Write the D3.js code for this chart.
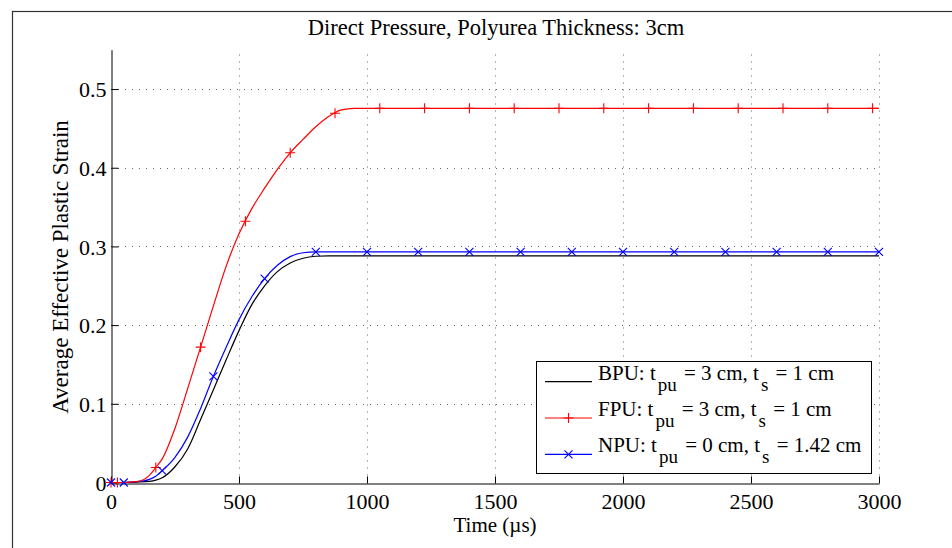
<!DOCTYPE html>
<html>
<head>
<meta charset="utf-8">
<script src="https://cdn.jsdelivr.net/npm/d3@7"></script>
<style>
  html, body { margin: 0; padding: 0; background: #fff; }
  svg { display: block; }
  text { font-family: "Liberation Serif", "Times New Roman", Times, serif; fill: #000; }
</style>
</head>
<body>
<svg id="chart" width="952" height="548"></svg>
<script>
// Sample times (µs) for the strain histories
const time = [0, 50, 100, 150, 175, 200, 250, 300, 350, 400, 450, 500, 550, 600, 650, 700, 750, 800, 850, 900, 950, 1000, 1500, 2000, 2500, 3000];

// Average effective plastic strain for each configuration
const bpu = [0, 0, 0.0005, 0.0015, 0.003, 0.006, 0.020, 0.043, 0.080, 0.118, 0.156, 0.193, 0.226, 0.250, 0.268, 0.279, 0.285, 0.2875, 0.288, 0.288, 0.288, 0.288, 0.288, 0.288, 0.288, 0.288];
const fpu = [0, 0, 0.001, 0.009, 0.019, 0.030, 0.069, 0.120, 0.172, 0.2245, 0.275, 0.316, 0.348, 0.374, 0.398, 0.419, 0.436, 0.452, 0.465, 0.4735, 0.4755, 0.4755, 0.4755, 0.4755, 0.4755, 0.4755];
const npu = [0, 0, 0.001, 0.004, 0.008, 0.015, 0.032, 0.058, 0.094, 0.135, 0.172, 0.207, 0.236, 0.259, 0.276, 0.287, 0.292, 0.293, 0.293, 0.293, 0.293, 0.293, 0.293, 0.293, 0.293, 0.293];

// Times at which the curve markers are placed
const fpuMarkTimes = [0, 25, 175, 350, 525, 700, 875, 1050, 1225, 1400, 1575, 1750, 1925, 2100, 2275, 2450, 2625, 2800, 2975];
const npuMarkTimes = [0, 50, 200, 400, 600, 800, 1000, 1200, 1400, 1600, 1800, 2000, 2200, 2400, 2600, 2800, 3000];

const xTicks = [0, 500, 1000, 1500, 2000, 2500, 3000];
const yTicks = [0, 0.1, 0.2, 0.3, 0.4, 0.5];

const titleText = "Direct Pressure, Polyurea Thickness: 3cm";
const xLabel = "Time (\u00b5s)";
const yLabel = "Average Effective Plastic Strain";

const legendEntries = [
  { name: "BPU", tpu: "3", ts: "1", color: "#000000", marker: null },
  { name: "FPU", tpu: "3", ts: "1", color: "#ff0000", marker: "plus" },
  { name: "NPU", tpu: "0", ts: "1.42", color: "#0000ff", marker: "cross" }
];

const svg = d3.select("#chart");

// Figure frame
svg.append("rect")
  .attr("x", 12.5).attr("y", 11.5)
  .attr("width", 960).attr("height", 560)
  .attr("fill", "none").attr("stroke", "#333").attr("stroke-width", 1.2);

const x = d3.scaleLinear().domain([0, 3000]).range([111, 879]);
const y = d3.scaleLinear().domain([0, 0.55]).range([482.5, 49.7]);

// Dotted grid
const grid = svg.append("g").attr("stroke", "#666").attr("stroke-width", 1).attr("stroke-dasharray", "1 6");
grid.selectAll("line.v").data(xTicks.filter(d => d > 0)).join("line")
  .attr("x1", d => Math.round(x(d)) + 0.5).attr("x2", d => Math.round(x(d)) + 0.5)
  .attr("y1", y(0)).attr("y2", y(0.55));
grid.selectAll("line.h").data(yTicks.filter(d => d > 0)).join("line")
  .attr("x1", x(0)).attr("x2", x(3000))
  .attr("y1", d => Math.round(y(d)) + 0.5).attr("y2", d => Math.round(y(d)) + 0.5);

// Axes with inward ticks
const xAxis = d3.axisBottom(x).tickValues(xTicks).tickSizeInner(-7).tickSizeOuter(0).tickPadding(0);
const gx = svg.append("g").attr("transform", `translate(0,${Math.round(y(0)) + 0.5})`).call(xAxis);
gx.select(".domain").attr("stroke", "#000");
gx.selectAll(".tick line").attr("stroke", "#000");
gx.selectAll(".tick text").remove();
gx.selectAll(".tick").append("text")
  .attr("y", 25).attr("text-anchor", "middle")
  .style("font-size", "22px")
  .text(d => d);

const yAxis = d3.axisLeft(y).tickValues(yTicks).tickSizeInner(-7).tickSizeOuter(0);
const gy = svg.append("g").attr("transform", `translate(${Math.round(x(0)) + 0.5},0)`).call(yAxis);
gy.select(".domain").attr("stroke", "#000");
gy.selectAll(".tick line").attr("stroke", "#000");
gy.selectAll(".tick text").remove();
gy.selectAll(".tick").append("text")
  .attr("x", -5).attr("dy", "0.35em").attr("text-anchor", "end")
  .style("font-size", "22px")
  .text(d => d === 0 ? "0" : d3.format(".1f")(d));

// Curves
const line = d3.line().x(d => x(d[0])).y(d => y(d[1])).curve(d3.curveMonotoneX);
const series = [
  { vals: bpu, color: "#000000" },
  { vals: npu, color: "#0000ff" },
  { vals: fpu, color: "#ff0000" }
];
series.forEach(s => {
  svg.append("path")
    .datum(time.map((t, i) => [t, s.vals[i]]))
    .attr("fill", "none").attr("stroke", s.color).attr("stroke-width", 1.2)
    .attr("d", line);
});

// Position on a curve for a marker time
function valueAt(vals, t) {
  const i = d3.bisectRight(time, t) - 1;
  if (i >= time.length - 1) return vals[vals.length - 1];
  const f = (t - time[i]) / (time[i + 1] - time[i]);
  return vals[i] + f * (vals[i + 1] - vals[i]);
}

function drawPlus(g, cx, cy, color) {
  g.append("path").attr("d", `M${cx - 5},${cy}H${cx + 5}M${cx},${cy - 5}V${cy + 5}`)
    .attr("stroke", color).attr("stroke-width", 1.1).attr("fill", "none");
}
function drawCross(g, cx, cy, color) {
  g.append("path").attr("d", `M${cx - 4},${cy - 4}L${cx + 4},${cy + 4}M${cx - 4},${cy + 4}L${cx + 4},${cy - 4}`)
    .attr("stroke", color).attr("stroke-width", 1.1).attr("fill", "none");
}

const marks = svg.append("g");
fpuMarkTimes.forEach(t => drawPlus(marks, x(t), y(valueAt(fpu, t)), "#ff0000"));
npuMarkTimes.forEach(t => drawCross(marks, x(t), y(valueAt(npu, t)), "#0000ff"));

// Titles
svg.append("text").attr("x", 496).attr("y", 35).attr("text-anchor", "middle")
  .style("font-size", "22.5px").text(titleText);
svg.append("text").attr("x", 495).attr("y", 532).attr("text-anchor", "middle")
  .style("font-size", "21px").text(xLabel);
svg.append("text").attr("transform", "translate(68,267) rotate(-90)").attr("text-anchor", "middle")
  .style("font-size", "23px").text(yLabel);

// Legend
const lg = svg.append("g");
lg.append("rect").attr("x", 536.5).attr("y", 361.5).attr("width", 335).attr("height", 112)
  .attr("fill", "#fff").attr("stroke", "#000").attr("stroke-width", 1);
legendEntries.forEach((e, i) => {
  const ly = 381.7 + i * 36.3;
  lg.append("line").attr("x1", 545).attr("x2", 592).attr("y1", ly).attr("y2", ly)
    .attr("stroke", e.color).attr("stroke-width", 1.2);
  if (e.marker === "plus") drawPlus(lg, 568.5, ly, e.color);
  if (e.marker === "cross") drawCross(lg, 568.5, ly, e.color);
  const t = lg.append("text").attr("x", 598).attr("y", ly - 2).style("font-size", "21px");
  t.append("tspan").text(`${e.name}: t`);
  t.append("tspan").attr("dx", 2).attr("dy", 11).style("font-size", "19px").text("pu");
  t.append("tspan").attr("dx", 2).attr("dy", -11).text(` = ${e.tpu} cm, t`);
  t.append("tspan").attr("dx", 2).attr("dy", 11).style("font-size", "19px").text("s");
  t.append("tspan").attr("dx", 2).attr("dy", -11).text(` = ${e.ts} cm`);
});
</script>
</body>
</html>
